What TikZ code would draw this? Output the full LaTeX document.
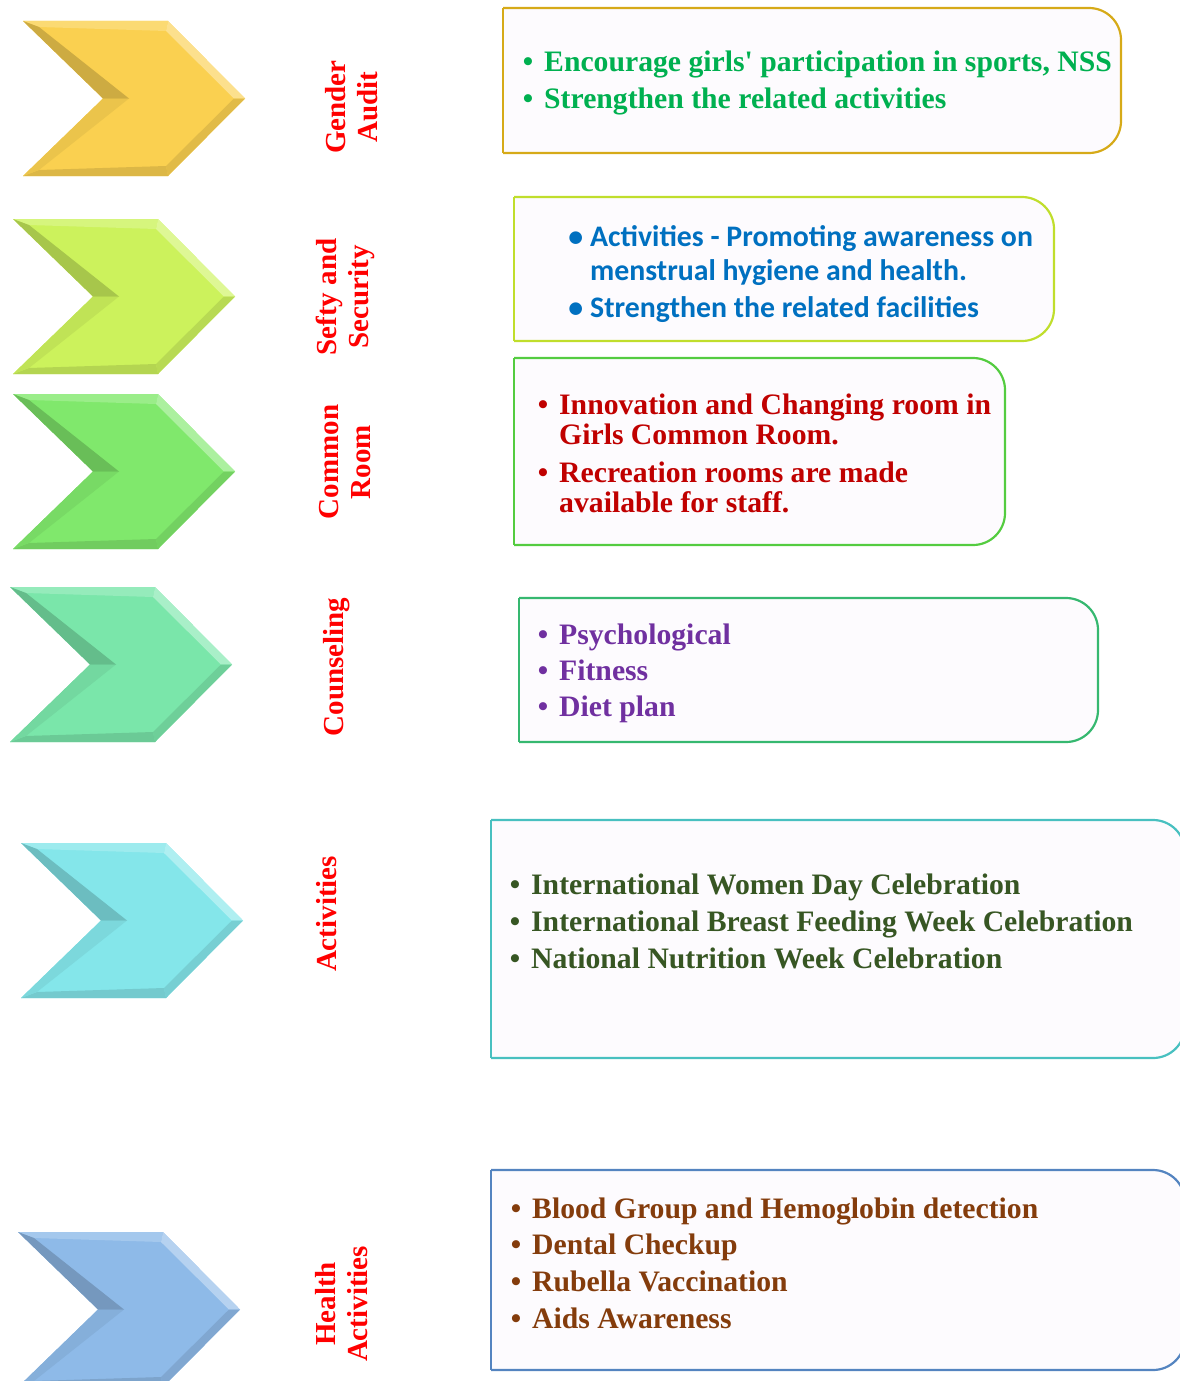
\documentclass[tikz,border=0pt]{standalone}
\usepackage{fontspec}
\setmainfont{Liberation Serif}
\newfontfamily\calfont{Carlito}
\usetikzlibrary{positioning}

\definecolor{labelred}{RGB}{255,0,0}
\definecolor{panelfill}{RGB}{253,251,254}
\definecolor{chevA}{RGB}{250,208,80}
\definecolor{chevB}{RGB}{204,242,92}
\definecolor{chevC}{RGB}{128,232,108}
\definecolor{chevD}{RGB}{122,230,170}
\definecolor{chevE}{RGB}{132,230,234}
\definecolor{chevF}{RGB}{142,186,232}
\definecolor{frameA}{RGB}{214,170,24}
\definecolor{frameB}{RGB}{192,222,44}
\definecolor{frameC}{RGB}{84,204,64}
\definecolor{frameD}{RGB}{54,184,112}
\definecolor{frameE}{RGB}{72,192,192}
\definecolor{frameF}{RGB}{84,132,192}
\definecolor{txtA}{RGB}{0,176,80}
\definecolor{txtB}{RGB}{0,112,192}
\definecolor{txtC}{RGB}{192,0,0}
\definecolor{txtD}{RGB}{112,48,160}
\definecolor{txtE}{RGB}{55,86,35}
\definecolor{txtF}{RGB}{132,60,12}

\newcommand{\itemdot}{\llap{\textbullet\hspace{11pt}}}
\newcommand{\calitemdot}{\llap{\textbullet\hspace{7pt}}}

\newcommand{\bchevron}[3]{
	\pgfmathsetmacro{\CHx}{#1}
	\pgfmathsetmacro{\CHy}{#2}
	\begin{scope}[shift={(\CHx,\CHy)}]
	\fill[#3] (0,0) -- (145,0) -- (222,77.5) -- (145,155) -- (0,155) -- (80,77.5) -- cycle;
	\fill[#3!80!white] (0,0) -- (145,0) -- (143,10) -- (16,6) -- cycle;
	\fill[#3!65!white] (145,0) -- (222,77.5) -- (211,77.5) -- (143,10) -- cycle;
	\fill[#3!90!black] (222,77.5) -- (145,155) -- (143,145) -- (211,77.5) -- cycle;
	\fill[#3!88!black] (145,155) -- (0,155) -- (16,149) -- (143,145) -- cycle;
	\fill[#3!94!black] (0,155) -- (80,77.5) -- (106,77.5) -- (16,149) -- cycle;
	\fill[#3!82!black] (80,77.5) -- (0,0) -- (16,6) -- (106,77.5) -- cycle;
	\end{scope}
}

\newcommand{\panelframe}[2]{
	\filldraw[fill=panelfill, draw=#2, line width=2.2pt, rounded corners=32pt] (#1.north west) -- (#1.north east) -- (#1.south east) -- (#1.south west);
	\draw[#2, line width=2.2pt] (#1.south west) -- (#1.north west);
}

\begin{document}
\begin{tikzpicture}[x=1pt, y=-1pt,
	panel/.style={inner sep=0pt, outer sep=0pt, anchor=north west},
	lbl/.style={rotate=90, text=labelred, align=center, font=\bfseries\fontsize{29}{32}\selectfont},
	items/.style={anchor=west, align=left, inner sep=0pt, font=\bfseries\fontsize{29.7}{37}\selectfont}]
\useasboundingbox (0,0) rectangle (1180,1381);
\clip (0,0) rectangle (1180,1381);

\bchevron{23}{21}{chevA}
\bchevron{13}{219}{chevB}
\bchevron{13}{394}{chevC}
\bchevron{10}{587}{chevD}
\bchevron{21}{843}{chevE}
\bchevron{18}{1232}{chevF}

\node[lbl] (galbl) at (352,107) {Gender\\Audit};
\node[lbl] (sslbl) at (345,297) {Sefty and\\Security};
\node[lbl] (crlbl) at (345,462) {Common\\Room};
\node[lbl] (colbl) at (337,667) {Counseling};
\node[lbl] (aclbl) at (327,914) {Activities};
\node[lbl] (halbl) at (342,1304) {Health\\Activities};

% panels
\node[panel, minimum width=618, minimum height=145] (gabox) at (503,8) {};
\panelframe{gabox}{frameA}
\node[items, text=txtA] (gaitems) at ([xshift=41pt, yshift=-2pt]gabox.west)
	{\itemdot Encourage girls\textquotesingle\ participation in sports, NSS\\\itemdot Strengthen the related activities};

\node[panel, minimum width=540, minimum height=144] (ssbox) at (514,197) {};
\panelframe{ssbox}{frameB}
\node[items, text=txtB, font=\calfont\bfseries\fontsize{29.8}{34}\selectfont] (ssitems) at ([xshift=76pt, yshift=-5pt]ssbox.west)
	{\calitemdot Activities - Promoting awareness on\\menstrual hygiene and health.\\[3pt]\calitemdot Strengthen the related facilities};

\node[panel, minimum width=491, minimum height=187] (crbox) at (514,358) {};
\panelframe{crbox}{frameC}
\node[items, text=txtC, font=\bfseries\fontsize{29.7}{30}\selectfont] (critems) at ([xshift=45pt, yshift=-2pt]crbox.west)
	{\itemdot Innovation and Changing room in\\Girls Common Room.\\[8pt]\itemdot Recreation rooms are made\\available for staff.};

\node[panel, minimum width=579, minimum height=144] (cobox) at (519,598) {};
\panelframe{cobox}{frameD}
\node[items, text=txtD, font=\bfseries\fontsize{29.7}{36}\selectfont] (coitems) at ([xshift=40pt, yshift=-3pt]cobox.west)
	{\itemdot Psychological\\\itemdot Fitness\\\itemdot Diet plan};

\node[panel, minimum width=694, minimum height=238] (acbox) at (491,820) {};
\panelframe{acbox}{frameE}
\node[items, text=txtE] (acitems) at ([xshift=40pt, yshift=18pt]acbox.west)
	{\itemdot International Women Day Celebration\\\itemdot International Breast Feeding Week Celebration\\\itemdot National Nutrition Week Celebration};

\node[panel, minimum width=694, minimum height=200] (habox) at (491,1170) {};
\panelframe{habox}{frameF}
\node[items, text=txtF, font=\bfseries\fontsize{29.7}{36.7}\selectfont] (haitems) at ([xshift=41pt, yshift=7pt]habox.west)
	{\itemdot Blood Group and Hemoglobin detection\\\itemdot Dental Checkup\\\itemdot Rubella Vaccination\\\itemdot Aids Awareness};
\end{tikzpicture}
\end{document}
